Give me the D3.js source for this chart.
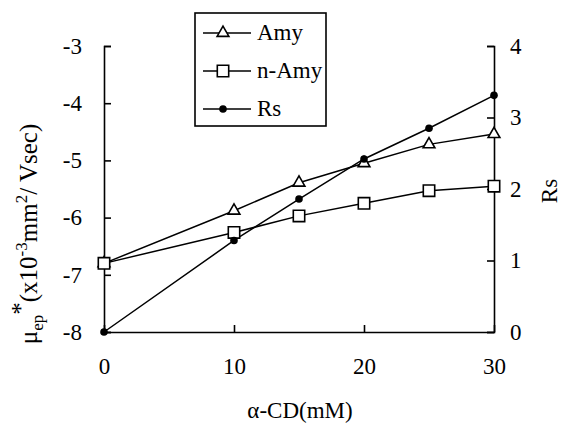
<!DOCTYPE html>
<html>
<head>
<meta charset="utf-8">
<script src="https://d3js.org/d3.v7.min.js"></script>
</head>
<body style="margin:0">
<svg id="chart" width="568" height="430"></svg>
<script>
var cd = [0, 10, 15, 20, 25, 30];
var amy = [-6.8, -5.88, -5.39, -5.05, -4.72, -4.54];
var nAmy = [-6.8, -6.26, -5.97, -5.75, -5.53, -5.45];
var rs = [0, 1.28, 1.86, 2.42, 2.85, 3.31];
var xTicks = [0, 10, 20, 30];
var leftTicks = [-3, -4, -5, -6, -7, -8];
var rightTicks = [0, 1, 2, 3, 4];

var serif = "Liberation Serif";

var svg = d3.select("#chart"),
    margin = {top: 46, right: 74, bottom: 98, left: 104},
    width = +svg.attr("width") - margin.left - margin.right,
    height = +svg.attr("height") - margin.top - margin.bottom;

var x = d3.scaleLinear().domain([0, 30]).range([0, width]),
    yL = d3.scaleLinear().domain([-8, -3]).range([height, 0]),
    yR = d3.scaleLinear().domain([0, 4]).range([height, 0]);

var g = svg.append("g")
    .attr("transform", "translate(" + margin.left + "," + margin.top + ")");

function fmt(d) { return String(d); }

function styleAxis(sel) {
    sel.attr("font-family", null).attr("font-size", null);
    sel.select(".domain").attr("stroke", "#000").attr("stroke-width", 1.6);
    sel.selectAll(".tick line").attr("stroke", "#000").attr("stroke-width", 1.6);
    sel.selectAll("text").attr("fill", "#000")
        .style("font-family", serif).style("font-size", "23px");
}

g.append("g")
    .attr("class", "axis axis--x")
    .attr("transform", "translate(0," + height + ")")
    .call(d3.axisBottom(x).tickValues(xTicks).tickFormat(fmt).tickSizeInner(-7).tickSizeOuter(0).tickPadding(26))
    .call(styleAxis);

g.append("g")
    .attr("class", "axis axis--y")
    .call(d3.axisLeft(yL).tickValues(leftTicks).tickFormat(fmt).tickSizeInner(-7).tickSizeOuter(-7).tickPadding(22))
    .call(styleAxis);

g.append("g")
    .attr("class", "axis axis--rs")
    .attr("transform", "translate(" + width + ",0)")
    .call(d3.axisRight(yR).tickValues(rightTicks).tickFormat(fmt).tickSizeInner(-7).tickSizeOuter(-7).tickPadding(16))
    .call(styleAxis);

// axis titles
svg.append("text")
    .attr("x", margin.left + width / 2 + 1)
    .attr("y", 418)
    .attr("text-anchor", "middle")
    .style("font-family", serif)
    .style("font-size", "23px")
    .text("α-CD(mM)");

svg.append("text")
    .attr("transform", "translate(557," + (margin.top + height / 2 + 2) + ") rotate(-90)")
    .attr("text-anchor", "middle")
    .style("font-family", serif)
    .style("font-size", "23px")
    .text("Rs");

var yl = svg.append("text")
    .attr("transform", "translate(37,234) rotate(-90)")
    .attr("text-anchor", "middle")
    .style("font-family", serif)
    .style("font-size", "25px");
yl.append("tspan").text("μ");
yl.append("tspan").attr("dy", 6).style("font-size", "17px").text("ep");
yl.append("tspan").attr("dy", -14).text("*");
yl.append("tspan").attr("dy", 8).text("(x10");
yl.append("tspan").attr("dy", -10).style("font-size", "17px").text("-3");
yl.append("tspan").attr("dy", 10).text("mm");
yl.append("tspan").attr("dy", -10).style("font-size", "17px").text("2");
yl.append("tspan").attr("dy", 10).text("/ Vsec)");

// lines
var line = function(ys, yScale) {
    return d3.line()
        .x(function(d, i) { return x(cd[i]); })
        .y(function(d) { return yScale(d); })(ys);
};

g.append("path").attr("d", line(amy, yL)).attr("fill", "none").attr("stroke", "#000").attr("stroke-width", 1.5);
g.append("path").attr("d", line(nAmy, yL)).attr("fill", "none").attr("stroke", "#000").attr("stroke-width", 1.5);
g.append("path").attr("d", line(rs, yR)).attr("fill", "none").attr("stroke", "#000").attr("stroke-width", 1.5);

var tri = d3.symbol().type(d3.symbolTriangle).size(60);
var sq = d3.symbol().type(d3.symbolSquare).size(130);

g.selectAll(".amy").data(amy).enter().append("path")
    .attr("class", "amy")
    .attr("d", tri)
    .attr("transform", function(d, i) { return "translate(" + x(cd[i]) + "," + yL(d) + ")"; })
    .attr("fill", "#fff").attr("stroke", "#000").attr("stroke-width", 1.6);

g.selectAll(".namy").data(nAmy).enter().append("path")
    .attr("class", "namy")
    .attr("d", sq)
    .attr("transform", function(d, i) { return "translate(" + x(cd[i]) + "," + yL(d) + ")"; })
    .attr("fill", "#fff").attr("stroke", "#000").attr("stroke-width", 1.6);

g.selectAll(".rs").data(rs).enter().append("circle")
    .attr("class", "rs")
    .attr("cx", function(d, i) { return x(cd[i]); })
    .attr("cy", function(d) { return yR(d); })
    .attr("r", 3.8)
    .attr("fill", "#000");

// legend
var legend = svg.append("g").attr("transform", "translate(195,13)");
legend.append("rect")
    .attr("width", 131).attr("height", 113)
    .attr("fill", "#fff").attr("stroke", "#000").attr("stroke-width", 1.6);

var names = ["Amy", "n-Amy", "Rs"];
names.forEach(function(name, i) {
    var ly = 20 + i * 38;
    legend.append("line")
        .attr("x1", 8).attr("x2", 56).attr("y1", ly).attr("y2", ly)
        .attr("stroke", "#000").attr("stroke-width", 1.5);
    if (i === 0) {
        legend.append("path").attr("d", tri).attr("transform", "translate(28," + ly + ")")
            .attr("fill", "#fff").attr("stroke", "#000").attr("stroke-width", 1.6);
    } else if (i === 1) {
        legend.append("path").attr("d", sq).attr("transform", "translate(28," + ly + ")")
            .attr("fill", "#fff").attr("stroke", "#000").attr("stroke-width", 1.6);
    } else {
        legend.append("circle").attr("cx", 28).attr("cy", ly).attr("r", 3.8).attr("fill", "#000");
    }
    legend.append("text")
        .attr("x", 62).attr("y", ly + 7)
        .style("font-family", serif)
        .style("font-size", "23px")
        .text(name);
});
</script>
</body>
</html>
